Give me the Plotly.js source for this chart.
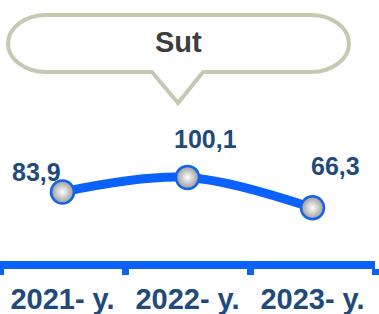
<!DOCTYPE html>
<html>
<head>
<meta charset="utf-8">
<script src="https://cdn.plot.ly/plotly-3.0.1.min.js"></script>
<style>html,body{margin:0;padding:0;background:#fff;}#chart{width:379px;height:314px;}</style>
</head>
<body>
<div id="chart"></div>
<script>
// Data
const categories = ['2021- y.', '2022- y.', '2023- y.'];
const values = [83.9, 100.1, 66.3];
const valueLabels = ['83,9', '100,1', '66,3'];
const titleText = 'Sut';

// Layout geometry (pixels)
const W = 379, Hh = 314;
const M = {l: 0, r: 4, t: 0, b: 53};
const PW = W - M.l - M.r, PH = Hh - M.t - M.b;
const px = x => (x - M.l) / PW;
const py = y => 1 - (y - M.t) / PH;

// speech bubble path in paper coords
const L = 8, R = 349, T = 15, B = 72, rx = 38, ry = (B - T) / 2, k = 0.5523, mid = T + ry;
const P = (x, y) => px(x) + ',' + py(y);
const bubble = 'M' + P(L + rx, T) +
  ' L' + P(R - rx, T) +
  ' C' + P(R - rx + k * rx, T) + ' ' + P(R, mid - k * ry) + ' ' + P(R, mid) +
  ' C' + P(R, mid + k * ry) + ' ' + P(R - rx + k * rx, B) + ' ' + P(R - rx, B) +
  ' L' + P(203, B) + ' L' + P(178, 103) + ' L' + P(152, B) +
  ' L' + P(L + rx, B) +
  ' C' + P(L + rx - k * rx, B) + ' ' + P(L, mid + k * ry) + ' ' + P(L, mid) +
  ' C' + P(L, mid - k * ry) + ' ' + P(L + rx - k * rx, T) + ' ' + P(L + rx, T) + ' Z';

const labelPos = [
  {xanchor: 'right', xshift: 0, yshift: 20},
  {xanchor: 'center', xshift: 18, yshift: 38},
  {xanchor: 'center', xshift: 23, yshift: 42}
];

const blue = '#0a62fa';
const labelColor = '#1f4a7c';

const annotations = categories.map((c, i) => Object.assign({
  x: c, y: values[i], xref: 'x', yref: 'y', text: valueLabels[i],
  showarrow: false, yanchor: 'middle',
  font: {family: 'Liberation Sans, Arial, sans-serif', size: 25, color: labelColor, weight: 'bold'}
}, labelPos[i]));

annotations.push({
  x: px(178), y: py(42), xref: 'paper', yref: 'paper', text: '<b>' + titleText + '</b>',
  showarrow: false, xanchor: 'center', yanchor: 'middle',
  font: {family: 'Liberation Sans, Arial, sans-serif', size: 29, color: '#3d3d3d'}
});

const trace = {
  x: categories, y: values, type: 'scatter', mode: 'lines+markers',
  cliponaxis: false,
  line: {color: blue, width: 9, shape: 'spline'},
  marker: {size: 23, color: '#9a9a9a', gradient: {type: 'radial', color: '#ffffff'},
           line: {color: '#1563ea', width: 2.5}},
  hoverinfo: 'none'
};

const layout = {
  width: W, height: Hh,
  margin: M,
  paper_bgcolor: '#ffffff', plot_bgcolor: '#ffffff',
  showlegend: false,
  xaxis: {
    type: 'category', range: [-0.5, 2.5], fixedrange: true,
    showline: true, linecolor: blue, linewidth: 8,
    ticks: 'outside', tickson: 'boundaries', ticklen: 6, tickwidth: 7, tickcolor: blue,
    ticklabelstandoff: 5,
    showgrid: false, zeroline: false,
    tickfont: {family: 'Liberation Sans, Arial, sans-serif', size: 29, color: labelColor, weight: 'bold'}
  },
  yaxis: {visible: false, range: [7.2, 297.2], fixedrange: true, showgrid: false, zeroline: false},
  shapes: [{type: 'path', xref: 'paper', yref: 'paper', path: bubble,
            fillcolor: '#ffffff', line: {color: '#c8c8b0', width: 4}, layer: 'above'}],
  annotations: annotations
};

Plotly.newPlot('chart', [trace], layout, {staticPlot: true, displayModeBar: false});
</script>
</body>
</html>
